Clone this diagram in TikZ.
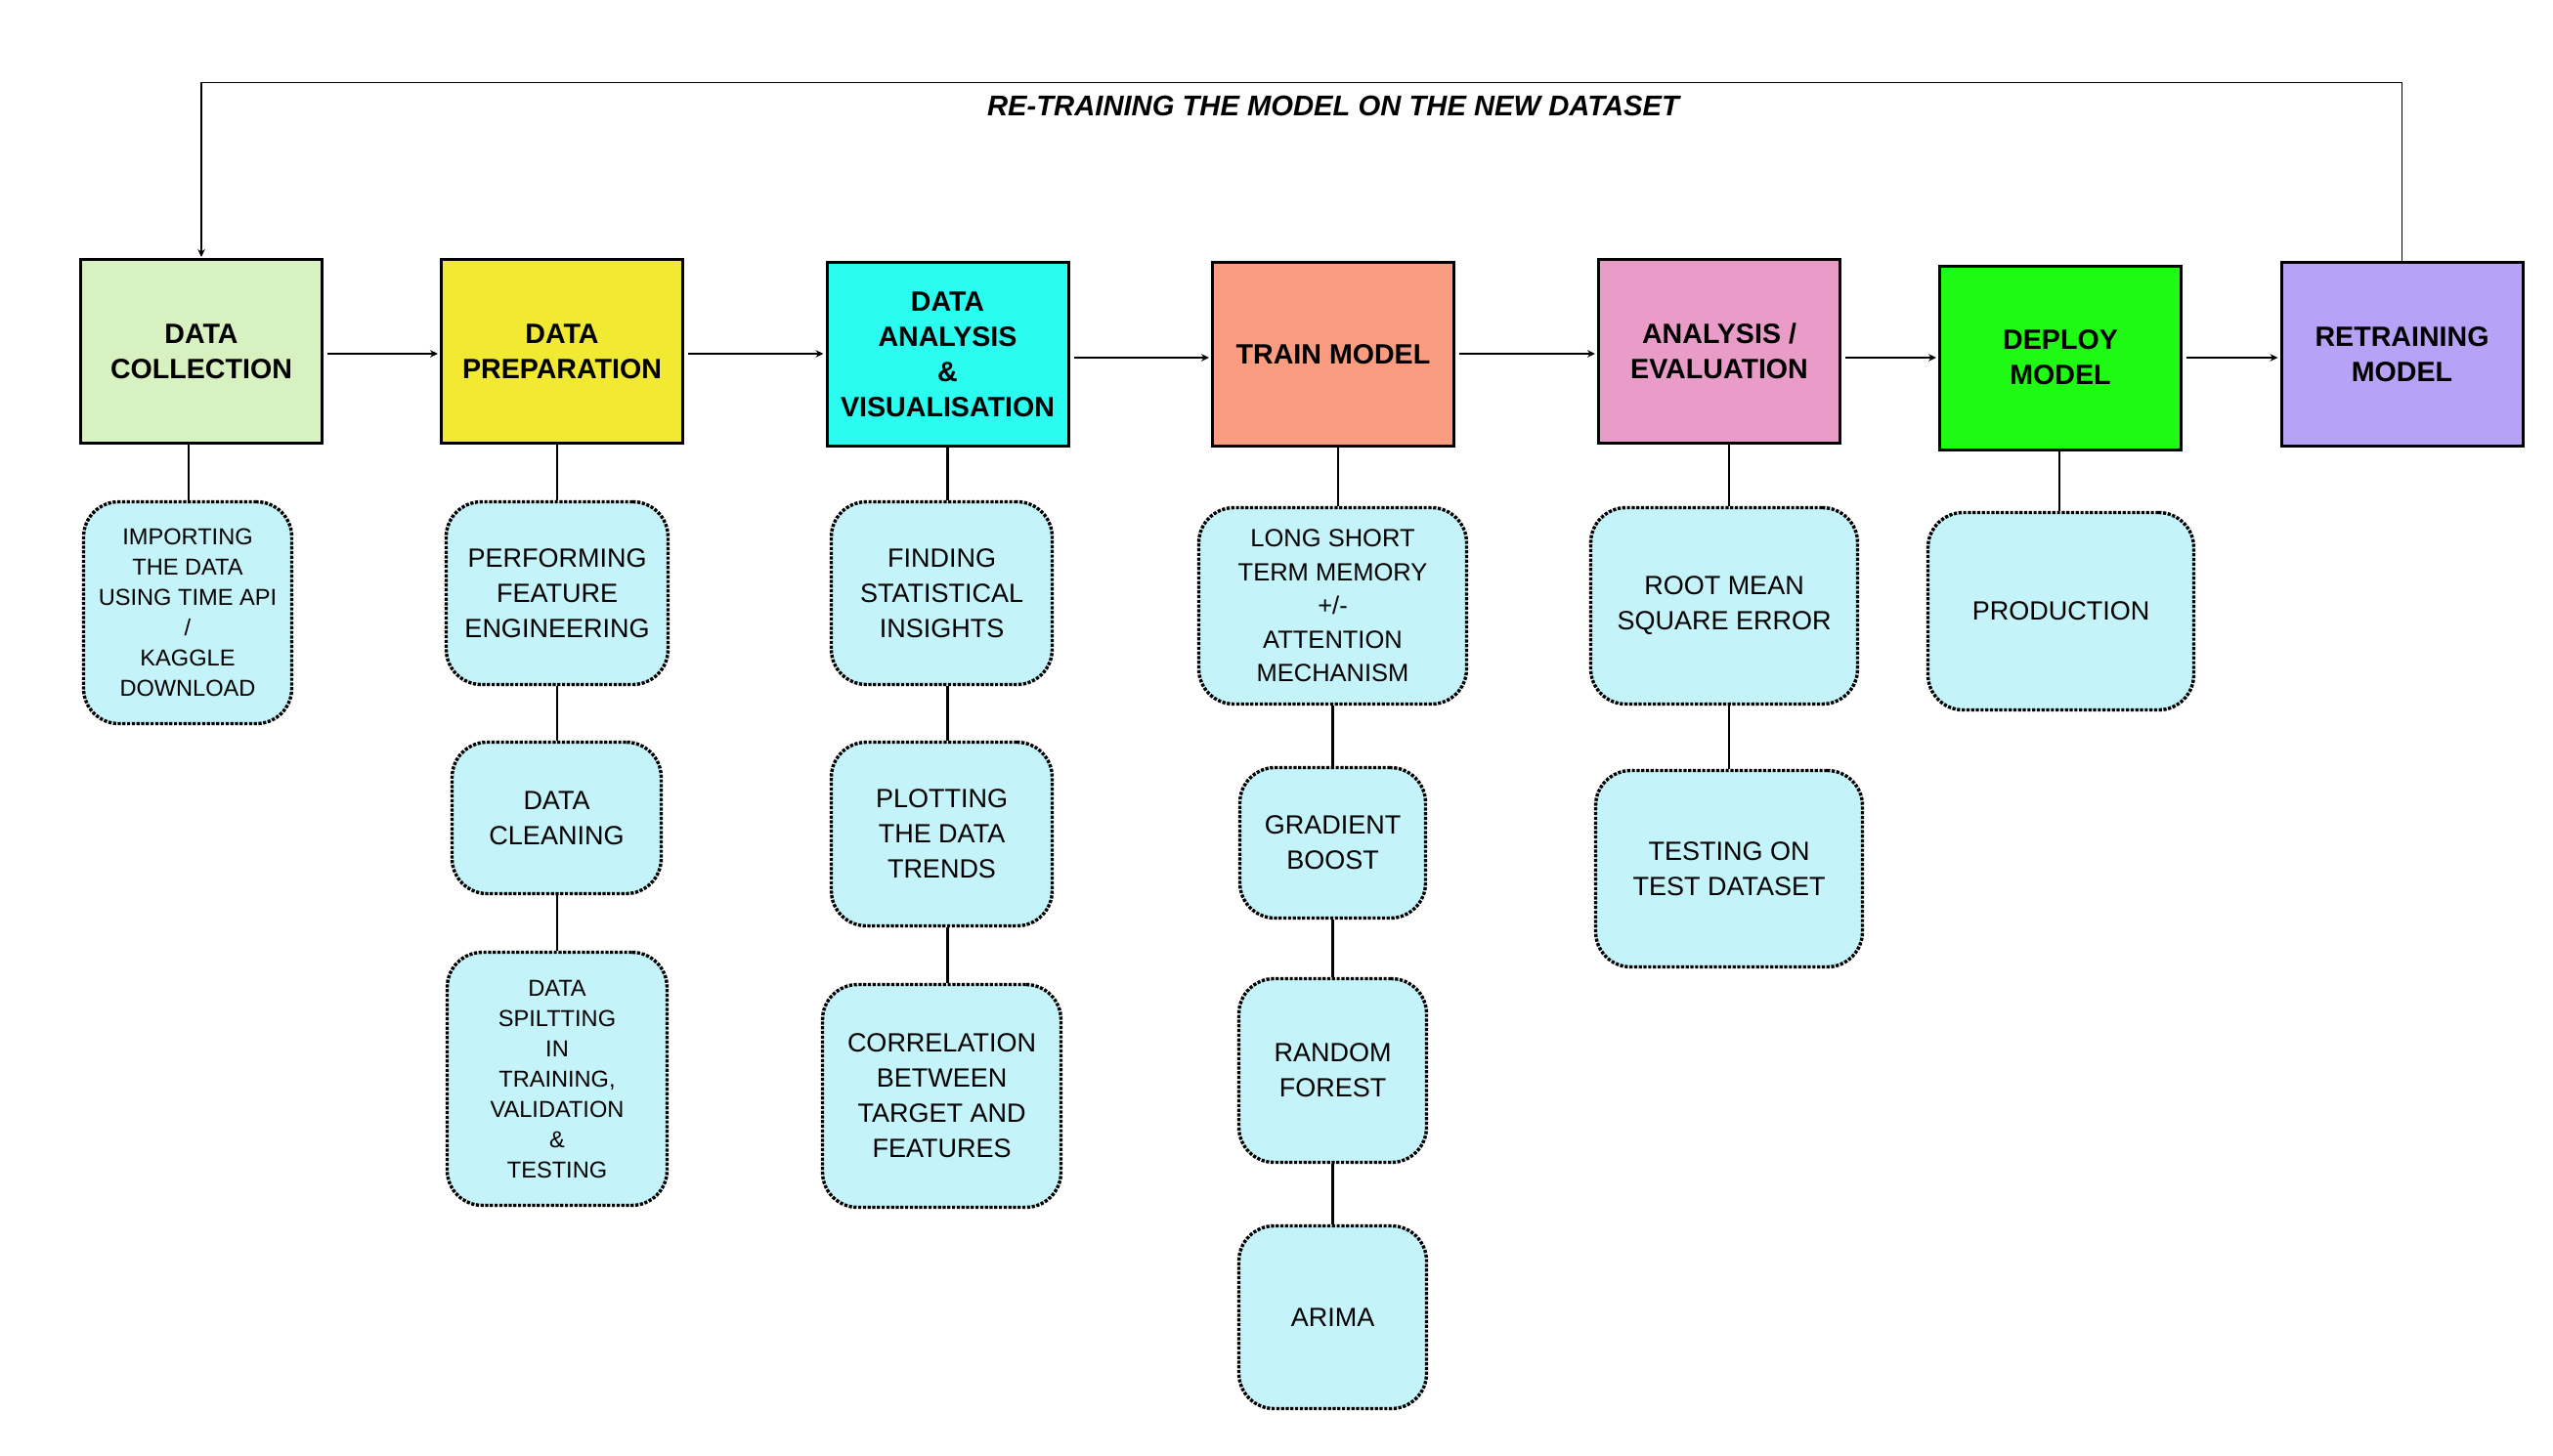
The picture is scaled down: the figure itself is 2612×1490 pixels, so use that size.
\documentclass[tikz,border=0pt]{standalone}
\usepackage{fontspec}
\setmainfont{Liberation Sans}
\usetikzlibrary{arrows.meta}
\definecolor{cA}{HTML}{D8F1C1}
\definecolor{cB}{HTML}{F2E932}
\definecolor{cC}{HTML}{2BFCF0}
\definecolor{cD}{HTML}{FA9C7F}
\definecolor{cE}{HTML}{EA9CC9}
\definecolor{cF}{HTML}{1FFA14}
\definecolor{cG}{HTML}{B8A2F8}
\definecolor{subcol}{HTML}{C4F3F9}
\begin{document}
\begin{tikzpicture}[x=1pt,y=-1pt,
  box/.style={draw=black, line width=3pt, minimum width=247pt, minimum height=188pt,
    inner sep=0pt, align=center, font=\fontsize{28.6}{36}\selectfont\bfseries},
  sub/.style={draw=black, line width=3.4pt, dash pattern=on 3.2pt off 1.6pt,
    fill=subcol, rounded corners=36pt, inner sep=0pt, align=center,
    font=\fontsize{27}{36}\selectfont},
  smalltxt/.style={font=\fontsize{23.6}{31}\selectfont},
  midtxt/.style={font=\fontsize{25.5}{34.4}\selectfont},
  conn/.style={line width=2.5pt},
  arr/.style={line width=1.3pt, -{Stealth[length=8pt,width=7.5pt]}, shorten >=2pt},
  loopline/.style={line width=1.2pt, -{Stealth[length=8pt,width=7.5pt]}, shorten >=1pt},
  title/.style={font=\fontsize{29.2}{36}\selectfont\bfseries\itshape, inner sep=0pt, anchor=base}
]
\useasboundingbox (0,0) rectangle (2612,1490);
\fill[white] (0,0) rectangle (2612,1490);

% main boxes
\node[box, fill=cA] (B1) at (206,359.5) {DATA\\COLLECTION};
\node[box, fill=cB] (B2) at (575,359.5) {DATA\\PREPARATION};
\node[box, fill=cC] (B3) at (969.5,362.5) {DATA\\ANALYSIS\\\&\\VISUALISATION};
\node[box, fill=cD] (B4) at (1364,362.5) {TRAIN MODEL};
\node[box, fill=cE] (B5) at (1759,359.5) {ANALYSIS /\\EVALUATION};
\node[box, fill=cF] (B6) at (2108,366) {DEPLOY\\MODEL};
\node[box, fill=cG] (B7) at (2457.5,362.5) {RETRAINING\\MODEL};

% title and loop
\node[title] (T) at (1364,119) {RE-TRAINING THE MODEL ON THE NEW DATASET};
\coordinate (topline) at (0,84.3);
\draw[loopline] (B7.north) -- (B7.north |- topline) -- (B1.north |- topline) -- (B1.north);

% arrows between boxes
\coordinate (yA) at (0,362);
\coordinate (yB) at (0,366);
\draw[arr] ([xshift=4pt]B1.east |- yA) -- (B2.west |- yA);
\draw[arr] ([xshift=4pt]B2.east |- yA) -- (B3.west |- yA);
\draw[arr] ([xshift=4pt]B3.east |- yB) -- (B4.west |- yB);
\draw[arr] ([xshift=4pt]B4.east |- yA) -- (B5.west |- yA);
\draw[arr] ([xshift=4pt]B5.east |- yB) -- (B6.west |- yB);
\draw[arr] ([xshift=4pt]B6.east |- yB) -- (B7.west |- yB);

% sub nodes
\node[sub, smalltxt, minimum width=213pt, minimum height=227pt] (S1) at (192,627)
  {IMPORTING\\THE DATA\\USING TIME API\\/\\KAGGLE\\DOWNLOAD};

\node[sub, minimum width=227pt, minimum height=187pt] (S2a) at (570,607)
  {PERFORMING\\FEATURE\\ENGINEERING};
\node[sub, minimum width=214pt, minimum height=155pt] (S2b) at (569.5,837)
  {DATA\\CLEANING};
\node[sub, smalltxt, minimum width=225pt, minimum height=259pt] (S2c) at (570,1104)
  {DATA\\SPILTTING\\IN\\TRAINING,\\VALIDATION\\\&\\TESTING};

\node[sub, minimum width=226pt, minimum height=187pt] (S3a) at (963.5,607)
  {FINDING\\STATISTICAL\\INSIGHTS};
\node[sub, minimum width=226pt, minimum height=188pt] (S3b) at (963.5,853.5)
  {PLOTTING\\THE DATA\\TRENDS};
\node[sub, minimum width=244pt, minimum height=228pt] (S3c) at (963.5,1121.5)
  {CORRELATION\\BETWEEN\\TARGET AND\\FEATURES};

\node[sub, midtxt, minimum width=274pt, minimum height=201pt] (S4a) at (1363.5,620)
  {LONG SHORT\\TERM MEMORY\\+/-\\ATTENTION\\MECHANISM};
\node[sub, minimum width=190pt, minimum height=154pt] (S4b) at (1363.5,862.5)
  {GRADIENT\\BOOST};
\node[sub, minimum width=192pt, minimum height=188pt] (S4c) at (1363.5,1095.5)
  {RANDOM\\FOREST};
\node[sub, minimum width=192pt, minimum height=187pt] (S4d) at (1363.5,1348)
  {ARIMA};

\node[sub, minimum width=273pt, minimum height=201pt] (S5a) at (1764,620)
  {ROOT MEAN\\SQUARE ERROR};
\node[sub, minimum width=273pt, minimum height=201pt] (S5b) at (1769,889)
  {TESTING ON\\TEST DATASET};

\node[sub, minimum width=272pt, minimum height=202pt] (S6) at (2108.5,625.5)
  {PRODUCTION};

% connectors
\coordinate (x1) at (193,0);
\draw[conn] (B1.south -| x1) -- (S1.north -| x1);
\coordinate (x2) at (570,0);
\draw[conn] (B2.south -| x2) -- (S2a.north -| x2);
\draw[conn] (S2a.south -| x2) -- (S2b.north -| x2);
\draw[conn] (S2b.south -| x2) -- (S2c.north -| x2);
\draw[conn] (B3.south) -- (B3.south |- S3a.north);
\draw[conn] (S3a.south -| B3.south) -- (S3b.north -| B3.south);
\draw[conn] (S3b.south -| B3.south) -- (S3c.north -| B3.south);
\coordinate (x4) at (1369,0);
\draw[conn] (B4.south -| x4) -- (S4a.north -| x4);
\draw[conn] (S4a.south) -- (S4b.north);
\draw[conn] (S4b.south) -- (S4c.north);
\draw[conn] (S4c.south) -- (S4d.north);
\coordinate (x5) at (1769,0);
\draw[conn] (B5.south -| x5) -- (S5a.north -| x5);
\draw[conn] (S5a.south -| x5) -- (S5b.north -| x5);
\coordinate (x6) at (2107,0);
\draw[conn] (B6.south -| x6) -- (S6.north -| x6);
\end{tikzpicture}
\end{document}
